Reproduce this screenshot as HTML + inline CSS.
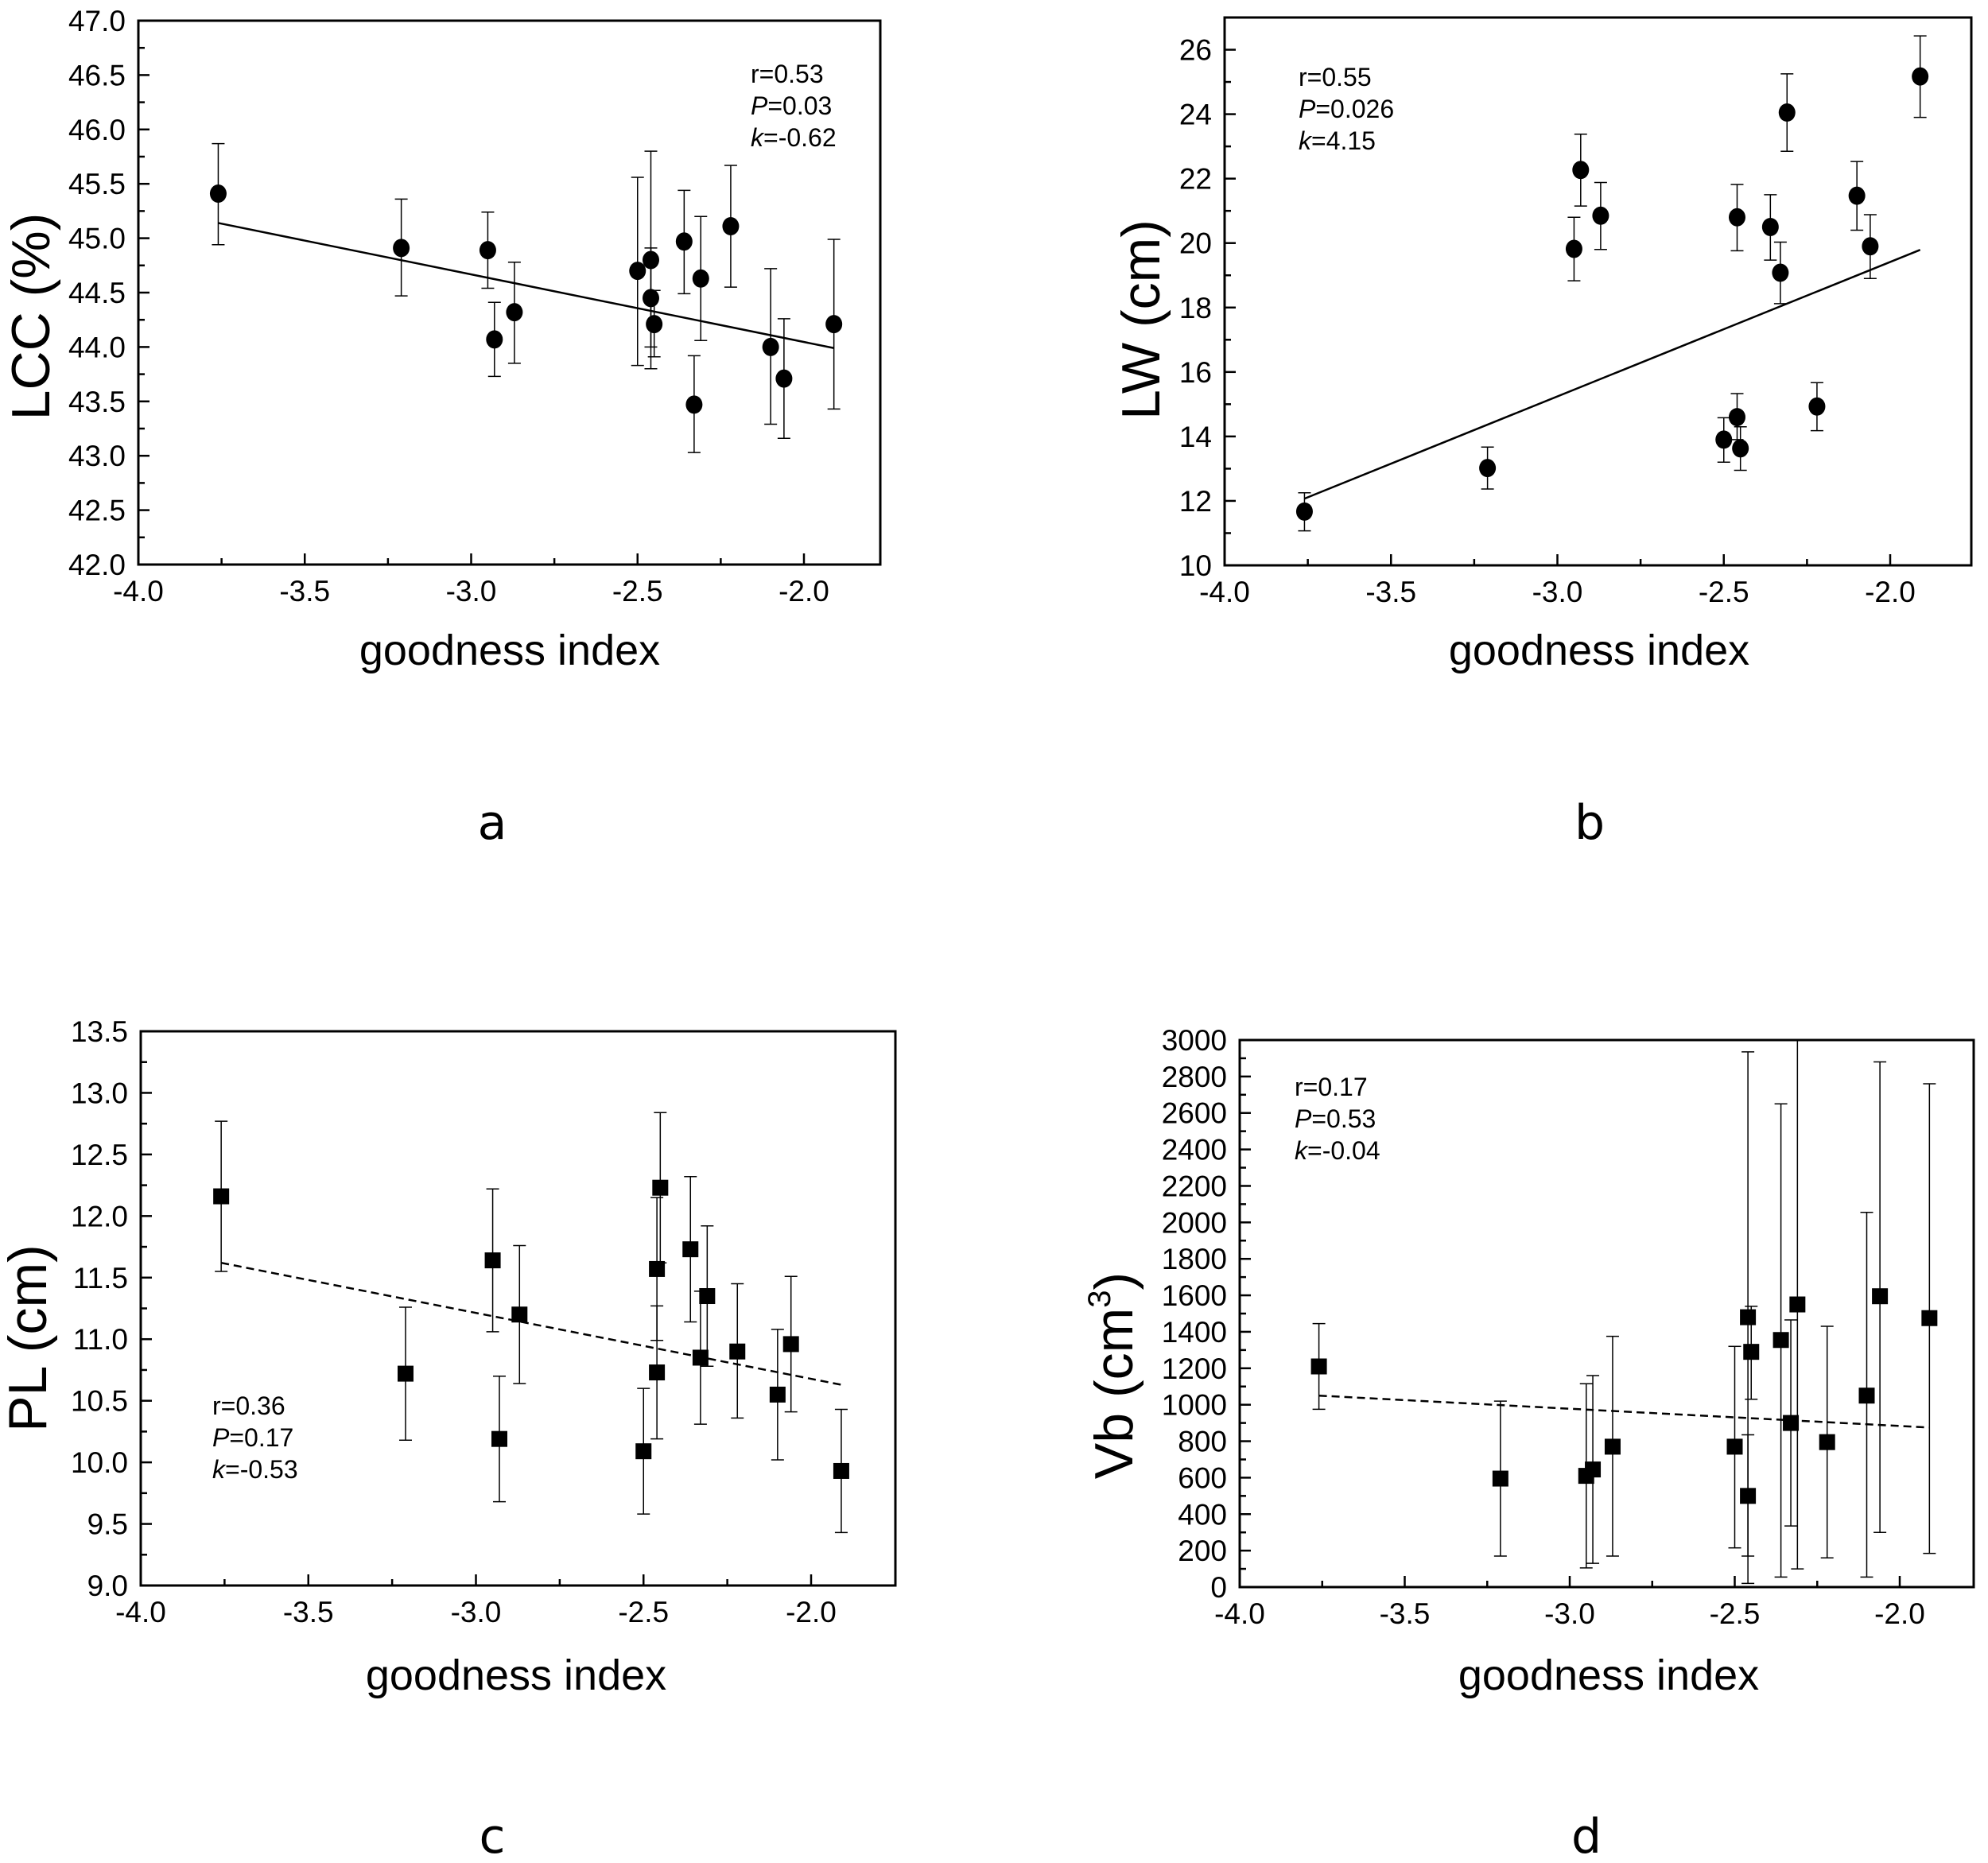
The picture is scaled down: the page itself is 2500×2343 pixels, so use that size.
<!DOCTYPE html>
<html><head><meta charset="utf-8"><style>
html,body{margin:0;padding:0;background:#fff;width:2500px;height:2343px;overflow:hidden}
svg{display:block}
text{font-family:"Liberation Sans",Arial,sans-serif;fill:#000}
</style></head><body>
<svg id="s" width="2500" height="2343" viewBox="0 0 2500 2343" xmlns="http://www.w3.org/2000/svg"></svg>
<script>
var S=document.getElementById('s'),h='';
function L(x1,y1,x2,y2,w,d){h+='<line x1="'+x1+'" y1="'+y1+'" x2="'+x2+'" y2="'+y2+'" stroke="#000" stroke-width="'+w+'"'+(d?' stroke-dasharray="'+d+'"':'')+'/>';}
function T(x,y,s,t,a,extra){h+='<text x="'+x+'" y="'+y+'" font-size="'+s+'" text-anchor="'+(a||'start')+'" '+(extra||'')+'>'+t+'</text>';}
function panel(p){
 var X=function(v){return p.x4+(v+4)*(p.x2-p.x4)/2;};
 var Y=function(v){return p.bot-(v-p.ymin)*(p.bot-p.top)/(p.ymax-p.ymin);};
 var right=p.right;
 h+='<rect x="'+p.x4+'" y="'+p.top+'" width="'+(right-p.x4)+'" height="'+(p.bot-p.top)+'" fill="none" stroke="#000" stroke-width="3"/>';
 for(var v=-4;v<=-1.75+1e-9;v+=0.25){var xx=X(v);var maj=Math.abs(v*2-Math.round(v*2))<1e-6;
  if(xx>right-2)continue;
  L(xx,p.bot,xx,p.bot-(maj?14:8),2.5);
  if(maj)T(xx,p.bot+46,37,v.toFixed(1),'middle');}
 for(var k=0;;k++){var v=p.ymin+k*p.minor;if(v>p.ymax+1e-9)break;var yy=Y(v);
  var maj=Math.abs((v-p.ymin)/p.major-Math.round((v-p.ymin)/p.major))<1e-6;
  L(p.x4,yy,p.x4+(maj?14:8),yy,2.5);
  if(maj)T(p.x4-16,yy+13,37,v.toFixed(p.dec),'end');}
 p.d.forEach(function(q){var xx=X(q[0]);var lo=Y(q[2]),hi=Math.max(Y(q[3]),p.top);
  L(xx,lo,xx,hi,1.5);L(xx-8,lo,xx+8,lo,1.5);if(Y(q[3])>=p.top)L(xx-8,hi,xx+8,hi,1.5);});
 L(X(p.f[0]),Y(p.f[1]),X(p.f[2]),Y(p.f[3]),2.5,p.dash?'10,6':null);
 p.d.forEach(function(q){var xx=X(q[0]),yy=Y(q[1]);
  if(p.sq)h+='<rect x="'+(xx-10)+'" y="'+(yy-10)+'" width="20" height="20" fill="#000"/>';
  else h+='<ellipse cx="'+xx+'" cy="'+yy+'" rx="10.5" ry="11.5" fill="#000"/>';});
 T(p.sx,p.sy,32,'r='+p.st[0]);
 T(p.sx,p.sy+40,32,'<tspan font-style="italic">P</tspan>=' + p.st[1]);
 T(p.sx,p.sy+80,32,'<tspan font-style="italic">k</tspan>=' + p.st[2]);
 T(p.xtx,p.xty,54,'goodness index','middle');
 T(0,0,68,p.yt,'middle','transform="translate('+(p.ytx+24)+','+p.yty+') rotate(-90)"');
 T(p.lx,p.ly,60,p.lab,'middle','style="font-family:\'DejaVu Sans\',sans-serif"');
}
panel({x4:174,x2:1011,right:1107,top:26,bot:710,ymin:42,ymax:47,major:0.5,minor:0.25,dec:1,
 d:[[-3.76,45.41,44.94,45.87],[-3.21,44.91,44.47,45.36],[-2.95,44.89,44.54,45.24],[-2.93,44.07,43.73,44.41],[-2.87,44.32,43.85,44.78],[-2.50,44.70,43.83,45.56],[-2.46,44.80,43.80,45.80],[-2.46,44.45,44.0,44.91],[-2.45,44.21,43.91,44.52],[-2.36,44.97,44.49,45.44],[-2.33,43.47,43.03,43.92],[-2.31,44.63,44.06,45.20],[-2.22,45.11,44.55,45.67],[-2.10,44.00,43.29,44.72],[-2.06,43.71,43.16,44.26],[-1.91,44.21,43.43,44.99]],
 f:[-3.76,45.14,-1.91,43.99],st:['0.53','0.03','-0.62'],sx:944,sy:104,
 xtx:641,xty:836,yt:'LCC (%)',ytx:38,yty:398,lab:'a',lx:619,ly:1055});
panel({x4:1540,x2:2377,right:2479,top:22,bot:711,ymin:10,ymax:27,major:2,minor:1,dec:0,
 d:[[-3.76,11.67,11.07,12.25],[-3.21,13.02,12.37,13.67],[-2.95,19.82,18.83,20.80],[-2.93,22.27,21.15,23.38],[-2.87,20.85,19.8,21.88],[-2.50,13.9,13.2,14.58],[-2.46,20.8,19.76,21.82],[-2.46,14.6,13.9,15.33],[-2.45,13.63,12.95,14.3],[-2.36,20.5,19.47,21.5],[-2.33,19.08,18.12,20.03],[-2.31,24.05,22.85,25.25],[-2.22,14.93,14.18,15.67],[-2.10,21.47,20.4,22.53],[-2.06,19.9,18.9,20.88],[-1.91,25.17,23.9,26.43]],
 f:[-3.76,12.07,-1.91,19.79],st:['0.55','0.026','4.15'],sx:1633,sy:108,
 xtx:2011,xty:836,yt:'LW (cm)',ytx:1434,yty:402,lab:'b',lx:1999,ly:1055});
panel({x4:177,x2:1020,right:1126,top:1297,bot:1994,ymin:9,ymax:13.5,major:0.5,minor:0.25,dec:1,sq:1,dash:1,
 d:[[-3.76,12.16,11.55,12.77],[-3.21,10.72,10.18,11.26],[-2.95,11.64,11.06,12.22],[-2.93,10.19,9.68,10.70],[-2.87,11.20,10.64,11.76],[-2.50,10.09,9.58,10.60],[-2.46,11.57,10.99,12.15],[-2.46,10.73,10.19,11.27],[-2.45,12.23,11.62,12.84],[-2.36,11.73,11.14,12.32],[-2.33,10.85,10.31,11.39],[-2.31,11.35,10.78,11.92],[-2.22,10.90,10.36,11.45],[-2.10,10.55,10.02,11.08],[-2.06,10.96,10.41,11.51],[-1.91,9.93,9.43,10.43]],
 f:[-3.76,11.62,-1.91,10.63],st:['0.36','0.17','-0.53'],sx:267,sy:1779,
 xtx:649,xty:2125,yt:'PL (cm)',ytx:34,yty:1683,lab:'c',lx:619,ly:2330});
panel({x4:1559,x2:2389,right:2482,top:1308,bot:1996,ymin:0,ymax:3000,major:200,minor:100,dec:0,sq:1,dash:1,
 d:[[-3.76,1210,975,1445],[-3.21,595,170,1020],[-2.95,610,105,1115],[-2.93,645,130,1160],[-2.87,770,170,1375],[-2.50,770,215,1320],[-2.46,1480,20,2935],[-2.46,500,170,835],[-2.45,1290,1030,1540],[-2.36,1355,55,2650],[-2.33,900,335,1465],[-2.31,1550,100,3100],[-2.22,795,160,1430],[-2.10,1050,55,2055],[-2.06,1595,300,2880],[-1.91,1475,185,2760]],
 f:[-3.76,1050,-1.91,875],st:['0.17','0.53','-0.04'],sx:1628,sy:1378,
 xtx:2023,xty:2125,yt:'Vb (cm<tspan dy="-28" font-size="40">3</tspan><tspan dy="28">)</tspan>',ytx:1400,yty:1730,lab:'d',lx:1995,ly:2330});
S.innerHTML=h;
</script>
</body></html>
